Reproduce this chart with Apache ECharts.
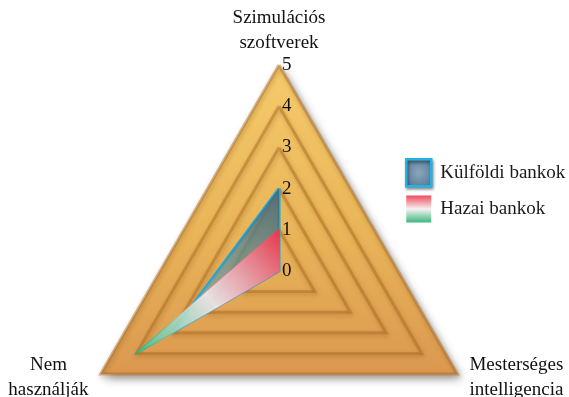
<!DOCTYPE html>
<html>
<head>
<meta charset="utf-8">
<script src="https://cdn.jsdelivr.net/npm/echarts@6/dist/echarts.min.js"></script>
<style>
  html, body { margin: 0; padding: 0; background: #fff; }
  #main { width: 569px; height: 397px; }
</style>
</head>
<body>
<div id="main"></div>
<script>
var indicatorNames = ['Szimulációs\nszoftverek', 'Nem\nhasználják', 'Mesterséges\nintelligencia'];
var axisMax = 5;
var kulfoldi = [2, 3, 0];
var hazai = [1, 4, 0];
var seriesNames = ['Külföldi bankok', 'Hazai bankok'];

var FONT = '"Liberation Serif", "DejaVu Serif", serif';

var chartDom = document.getElementById('main');
var myChart = echarts.init(chartDom);
var option;

// gold background, light at top and orange at the bottom corners
var goldFill = {
  type: 'linear', x: 0, y: 65, x2: 0, y2: 374, global: true,
  colorStops: [
    { offset: 0, color: '#f5cb6c' },
    { offset: 0.55, color: '#e9b458' },
    { offset: 1, color: '#db9850' }
  ]
};

var blueFill = {
  type: 'linear', x: 279, y: 190, x2: 150, y2: 345, global: true,
  colorStops: [
    { offset: 0, color: 'rgba(62,100,118,0.85)' },
    { offset: 1, color: 'rgba(140,200,200,0.55)' }
  ]
};

var flagFill = {
  type: 'linear', x: 279, y: 235, x2: 135, y2: 355, global: true,
  colorStops: [
    { offset: 0, color: 'rgba(235,60,80,0.95)' },
    { offset: 0.5, color: 'rgba(245,235,238,0.85)' },
    { offset: 1, color: 'rgba(60,190,140,0.9)' }
  ]
};

var flagLine = {
  type: 'linear', x: 279, y: 235, x2: 135, y2: 355, global: true,
  colorStops: [
    { offset: 0, color: '#ec3f5c' },
    { offset: 0.5, color: '#f4c9d2' },
    { offset: 1, color: '#1fb36c' }
  ]
};

option = {
  backgroundColor: '#ffffff',
  legend: {
    orient: 'vertical',
    left: 400,
    top: 153,
    itemWidth: 25,
    itemHeight: 27,
    itemGap: 8,
    icon: 'rect',
    textStyle: { fontFamily: FONT, fontSize: 19, color: '#1a1a1a', padding: [0, 0, 0, 4] },
    data: [
      {
        name: seriesNames[0],
        itemStyle: {
          color: {
            type: 'radial', x: 0.5, y: 0.5, r: 0.7,
            colorStops: [{ offset: 0, color: '#8aa6bd' }, { offset: 1, color: '#4f7390' }]
          },
          borderColor: '#22b2e6',
          borderWidth: 2.5,
          shadowColor: 'rgba(0,0,0,0.45)',
          shadowBlur: 3,
          shadowOffsetX: 1,
          shadowOffsetY: 2
        }
      },
      {
        name: seriesNames[1],
        itemStyle: {
          color: {
            type: 'linear', x: 0, y: 0, x2: 0, y2: 1,
            colorStops: [
              { offset: 0, color: '#ee4a5c' },
              { offset: 0.5, color: '#f7f1f1' },
              { offset: 1, color: '#3cb77c' }
            ]
          },
          borderWidth: 0
        }
      }
    ]
  },
  radar: {
    center: [279, 271],
    radius: 206,
    startAngle: 90,
    shape: 'polygon',
    splitNumber: axisMax,
    indicator: indicatorNames.map(function (n, i) {
      var ind = { name: n, min: 0, max: axisMax };
      if (i === 0) {
        ind.axisLabel = {
          show: true,
          showMinLabel: true,
          showMaxLabel: true,
          margin: -3,
          align: 'left',
          verticalAlign: 'middle',
          padding: [0, 0, 14, 0],
          fontFamily: FONT,
          fontSize: 19,
          color: '#111'
        };
      }
      return ind;
    }),
    axisName: {
      fontFamily: FONT,
      fontSize: 19,
      color: '#111',
      lineHeight: 25,
      formatter: function (name) {
        return name.split('\n').map(function (s) { return '{c|' + s + '}'; }).join('\n');
      },
      rich: {
        c: {
          fontFamily: FONT,
          fontSize: 19,
          color: '#111',
          lineHeight: 25,
          align: 'center',
          padding: [0, 6, 0, 6]
        }
      }
    },
    nameGap: 7,
    axisLine: { show: false },
    axisTick: { show: false },
    axisLabel: { show: false },
    splitLine: {
      lineStyle: {
        color: 'rgba(170,105,30,0.45)',
        width: 3,
        shadowColor: 'rgba(110,65,10,0.6)',
        shadowBlur: 4,
        shadowOffsetX: 1,
        shadowOffsetY: 2
      }
    },
    splitArea: {
      areaStyle: {
        color: [goldFill],
        shadowColor: 'rgba(0,0,0,0.35)',
        shadowBlur: 10,
        shadowOffsetX: 4,
        shadowOffsetY: 5
      }
    }
  },
  series: [
    {
      name: seriesNames[0],
      type: 'radar',
      symbol: 'none',
      itemStyle: { color: '#5a8099' },
      lineStyle: { color: '#1aa8de', width: 3 },
      areaStyle: { color: blueFill, opacity: 1 },
      data: [{ name: seriesNames[0], value: kulfoldi }]
    },
    {
      name: seriesNames[1],
      type: 'radar',
      symbol: 'none',
      itemStyle: { color: '#ee4a5c' },
      lineStyle: { color: flagLine, width: 2 },
      areaStyle: { color: flagFill, opacity: 1 },
      data: [{ name: seriesNames[1], value: hazai }]
    }
  ]
};

option && myChart.setOption(option);
</script>
</body>
</html>
